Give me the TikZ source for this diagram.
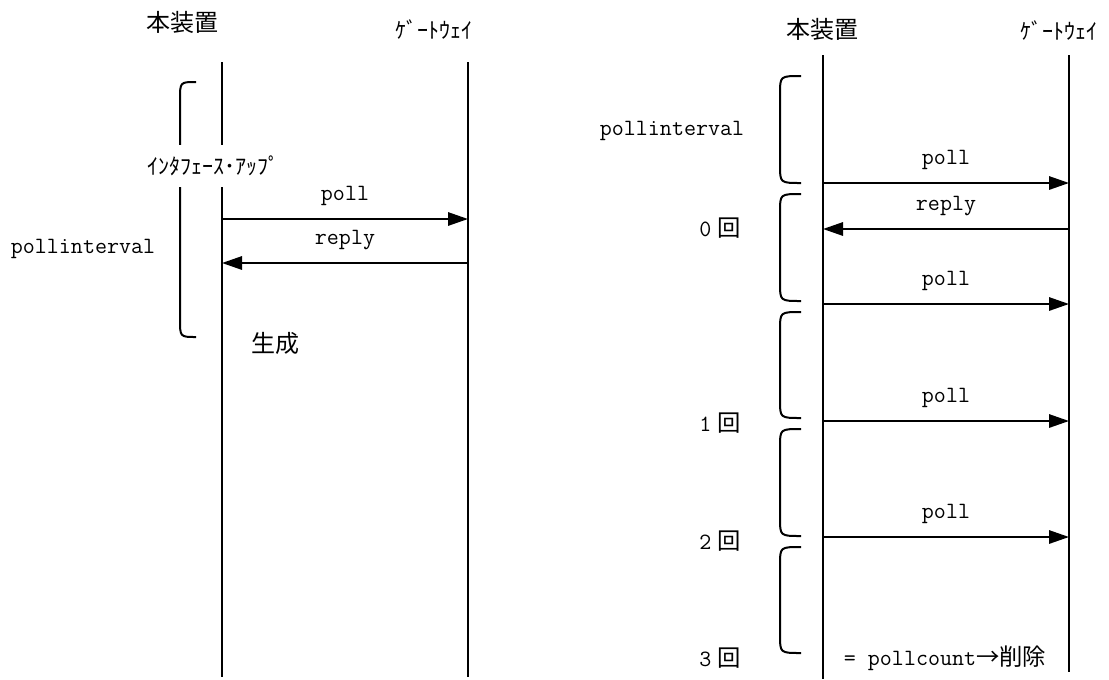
\documentclass[tikz,border=0pt]{standalone}
\usepackage{fontspec}
\newfontfamily\jp{Noto Sans CJK JP}
\usetikzlibrary{arrows.meta}
\begin{document}
\begin{tikzpicture}[x=0.75pt,y=-0.75pt,
  life/.style={line width=1.5pt},
  msg/.style={line width=1.5pt,-{Triangle[length=15pt,width=10pt]}},
  brc/.style={line width=1.5pt},
  tt/.style={font=\fontsize{17.5}{20}\selectfont\ttfamily, inner sep=1pt},
  jlbl/.style={font=\fontsize{18}{21}\selectfont\jp, inner sep=1pt},
  hk/.style={font=\fontsize{16.5}{19}\selectfont\jp, inner sep=1pt}]
\useasboundingbox (0,0) rectangle (1109,679);

% ---------------- left diagram ----------------
\node[jlbl] (hdrA1) at (182,22) {本装置};
\node[hk]   (hdrB1) at (434,30) {ｹﾞｰﾄｳｪｲ};
\coordinate (A1t) at (222,62);
\coordinate (A1b) at (222,677);
\coordinate (B1t) at (468,62);
\coordinate (B1b) at (468,677);
\draw[life] (A1t) -- (A1b);
\draw[life] (B1t) -- (B1b);
% brace
\draw[brc] (196,82) .. controls (180,82) .. (180,100) -- (180,319) .. controls (180,337) .. (196,337);
\node[hk, fill=white, inner ysep=8pt, inner xsep=2pt] (iface) at (213,166) {ｲﾝﾀﾌｪｰｽ･ｱｯﾌﾟ};
\node[tt] (pi1) at (83,249) {pollinterval};
\coordinate (A1p) at (222,219);
\coordinate (B1p) at (468,219);
\coordinate (A1r) at (222,263);
\coordinate (B1r) at (468,263);
\draw[msg] (A1p) -- (B1p) node[tt, midway, above=8pt] (lp1) {poll};
\draw[msg] (B1r) -- (A1r) node[tt, midway, above=8pt] (lr1) {reply};
\node[jlbl] (gen) at (275,343) {生成};

% ---------------- right diagram ----------------
\node[jlbl] (hdrA2) at (822,29) {本装置};
\node[hk]   (hdrB2) at (1059,31) {ｹﾞｰﾄｳｪｲ};
\coordinate (A2t) at (823,55);
\coordinate (A2b) at (823,679);
\coordinate (B2t) at (1069,55);
\coordinate (B2b) at (1069,672);
\draw[life] (A2t) -- (A2b);
\draw[life] (B2t) -- (B2b);
% braces
\foreach \ya/\yb in {76/183, 194/301, 312/418, 429/536, 547/653}{
  \draw[brc] (801,\ya) .. controls (780,\ya) .. (780,\ya+18) -- (780,\yb-18) .. controls (780,\yb) .. (801,\yb);
}
\node[tt] (pi2) at (672,131) {pollinterval};
\foreach \y/\nm in {183/p1, 229/r1, 304/p2, 421/p3, 537/p4}{
  \coordinate (A2\nm) at (823,\y);
  \coordinate (B2\nm) at (1069,\y);
}
\draw[msg] (A2p1) -- (B2p1) node[tt, midway, above=8pt] (rp1) {poll};
\draw[msg] (B2r1) -- (A2r1) node[tt, midway, above=8pt] (rr1) {reply};
\draw[msg] (A2p2) -- (B2p2) node[tt, midway, above=8pt] (rp2) {poll};
\draw[msg] (A2p3) -- (B2p3) node[tt, midway, above=8pt] (rp3) {poll};
\draw[msg] (A2p4) -- (B2p4) node[tt, midway, above=8pt] (rp4) {poll};
\node[tt] (c0) at (720,228) {0\hspace{0.25em}{\jp 回}};
\node[tt] (c1) at (720,423) {1\hspace{0.25em}{\jp 回}};
\node[tt] (c2) at (720,541) {2\hspace{0.25em}{\jp 回}};
\node[tt] (c3) at (720,658) {3\hspace{0.25em}{\jp 回}};
\node[tt] (del) at (945,658) {= pollcount{\jp →削除}};
\end{tikzpicture}
\end{document}
